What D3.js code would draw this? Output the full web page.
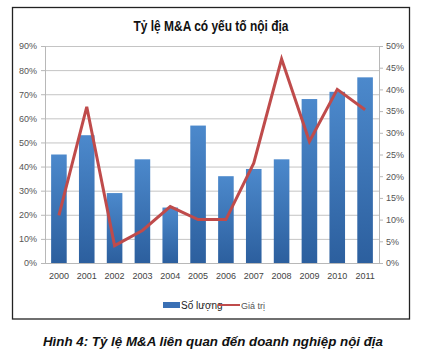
<!DOCTYPE html>
<html><head><meta charset="utf-8">
<script src="https://cdn.jsdelivr.net/npm/d3@7"></script>
<style>body{margin:0;background:#fff;}svg{display:block;}</style>
</head><body>
<svg id="c" width="434" height="354"></svg>
<script>
const years = ["2000","2001","2002","2003","2004","2005","2006","2007","2008","2009","2010","2011"];
const soLuong = [45,53,29,43,23,57,36,39,43,68,71,77];
const giaTri = [11,36,4,7.5,13,10,10,23,47,28,40,35.3];
const leftTicks = [0,10,20,30,40,50,60,70,80,90];
const rightTicks = [0,5,10,15,20,25,30,35,40,45,50];

const svg = d3.select("#c");
const font = "'Liberation Sans', Arial, sans-serif";
const m = {l:45, r:379, t:46, b:263};

const defs = svg.append("defs");
const g = defs.append("linearGradient").attr("id","bg").attr("x1",0).attr("y1",0).attr("x2",0).attr("y2",1);
g.append("stop").attr("offset","0%").attr("stop-color","#4c89cc");
g.append("stop").attr("offset","100%").attr("stop-color","#2c5f9e");

svg.append("rect").attr("x",12.5).attr("y",7.5).attr("width",397).attr("height",311.5)
  .attr("fill","#fff").attr("stroke","#222").attr("stroke-width",1.3);

svg.append("text").attr("x",211).attr("y",31).attr("text-anchor","middle")
  .attr("font-family",font).attr("font-weight","bold").attr("font-size",14.5).attr("fill","#111")
  .attr("textLength",155).attr("lengthAdjust","spacingAndGlyphs")
  .text("Tỷ lệ M&A có yếu tố nội địa");

const x = d3.scaleBand().domain(years).range([m.l,m.r]).paddingInner(0.44).paddingOuter(0.22);
const yL = d3.scaleLinear().domain([0,90]).range([m.b,m.t]);
const yR = d3.scaleLinear().domain([0,50]).range([m.b,m.t]);

// gridlines
svg.append("g").selectAll("line").data(leftTicks).join("line")
  .attr("x1",m.l).attr("x2",m.r).attr("y1",d=>yL(d)+0.5).attr("y2",d=>yL(d)+0.5)
  .attr("stroke","#c4c4c4").attr("stroke-width",1);

// left axis
const la = svg.append("g").attr("transform",`translate(${m.l},0)`)
  .call(d3.axisLeft(yL).tickValues(leftTicks).tickFormat(d=>d+"%").tickSize(4).tickPadding(4));
la.select(".domain").attr("stroke","#b8b8b8");
la.selectAll(".tick line").attr("stroke","#b8b8b8");
la.selectAll("text").attr("font-family",font).attr("font-size",9).attr("fill","#555");

// right axis
const ra = svg.append("g").attr("transform",`translate(${m.r},0)`)
  .call(d3.axisRight(yR).tickValues(rightTicks).tickFormat(d=>d+"%").tickSize(4).tickPadding(3));
ra.select(".domain").attr("stroke","#b8b8b8");
ra.selectAll(".tick line").attr("stroke","#b8b8b8");
ra.selectAll("text").attr("font-family",font).attr("font-size",9).attr("fill","#555");

// bars
svg.append("g").selectAll("rect").data(years).join("rect")
  .attr("x",d=>x(d)).attr("width",x.bandwidth())
  .attr("y",(d,i)=>yL(soLuong[i])).attr("height",(d,i)=>m.b-yL(soLuong[i]))
  .attr("fill","url(#bg)");

// bottom axis
const ba = svg.append("g").attr("transform",`translate(0,${m.b})`)
  .call(d3.axisBottom(x).tickSize(0).tickPadding(10));
ba.select(".domain").attr("stroke","#b8b8b8");
ba.selectAll("text").attr("font-family",font).attr("font-size",9).attr("fill","#444");

// line
const line = d3.line().x((d,i)=>x(years[i])+x.bandwidth()/2).y(d=>yR(d));
svg.append("path").datum(giaTri).attr("d",line).attr("fill","none")
  .attr("stroke","#bf4b4b").attr("stroke-width",3).attr("stroke-linejoin","miter");

// legend
const lg = svg.append("g");
lg.append("rect").attr("x",163).attr("y",302).attr("width",17).attr("height",6).attr("fill","#3a70b5");
lg.append("text").attr("x",181).attr("y",309).attr("font-family",font).attr("font-size",10).attr("fill","#222").text("Số lượng");
lg.append("line").attr("x1",218).attr("x2",240).attr("y1",305).attr("y2",305).attr("stroke","#bf4b4b").attr("stroke-width",2);
lg.append("text").attr("x",241).attr("y",309).attr("font-family",font).attr("font-size",9).attr("fill","#555").text("Giá trị");

// caption
svg.append("text").attr("x",43).attr("y",346).attr("font-family",font).attr("font-weight","bold")
  .attr("font-style","italic").attr("font-size",13.5).attr("fill","#111")
  .attr("textLength",340).attr("lengthAdjust","spacingAndGlyphs")
  .text("Hình 4: Tỷ lệ M&A liên quan đến doanh nghiệp nội địa");
</script>
</body></html>
